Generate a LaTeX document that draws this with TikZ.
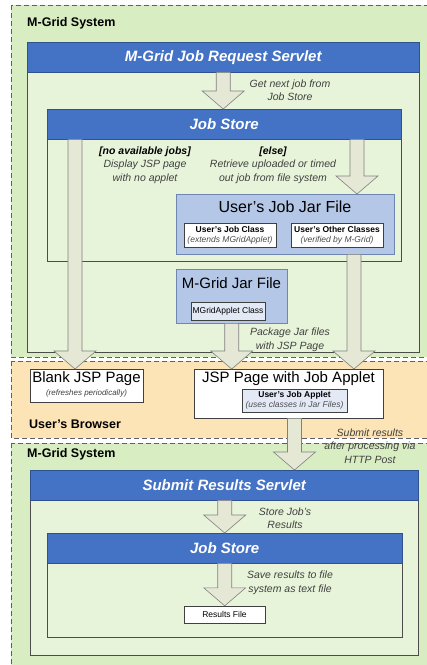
\documentclass[tikz,border=0pt]{standalone}
\usepackage{fontspec}
\setmainfont{Liberation Sans}
\usetikzlibrary{calc}

\definecolor{sysgreen}{HTML}{D8EEC2}
\definecolor{innergreen}{HTML}{E8F4DA}
\definecolor{browserorange}{HTML}{FCE4B6}
\definecolor{barblue}{HTML}{4472C4}
\definecolor{bardark}{HTML}{2F528F}
\definecolor{jarblue}{HTML}{B4C7E7}
\definecolor{jarline}{HTML}{6F86B0}
\definecolor{appletblue}{HTML}{E3EAF6}
\definecolor{arrowfill}{HTML}{E6E8D6}

% block arrow from a point straight down to another point
\newcommand{\blockarrow}[2]{%
  \path[blockarr] let \p1=#1, \p2=#2 in
    (\x1-7pt,\y1) -- (\x1-7pt,\y2+18pt) -- (\x1-21pt,\y2+18pt) -- (\x1,\y2)
    -- (\x1+21pt,\y2+18pt) -- (\x1+7pt,\y2+18pt) -- (\x1+7pt,\y1) -- cycle;}

\begin{document}
\begin{tikzpicture}[x=1pt,y=-1pt,
  sysregion/.style={draw=gray!75!black,dash pattern=on 5pt off 3pt,line width=0.7pt},
  container/.style={draw=black!70,fill=innergreen,anchor=north west,inner sep=0pt},
  bluebar/.style={draw=bardark,fill=barblue,text=white,anchor=north west,minimum height=30,
    inner sep=0pt,font=\fontsize{15}{18}\selectfont\bfseries\itshape},
  jarbox/.style={draw=jarline,fill=jarblue,anchor=north west,inner sep=0pt},
  classbox/.style={draw=black!75,fill=white,inner sep=1pt,align=center,
    font=\fontsize{8.5}{10}\selectfont},
  pagebox/.style={draw=black!75,fill=white,anchor=north west,inner sep=0pt},
  boxtitle/.style={inner sep=0pt,font=\fontsize{15}{18}\selectfont},
  note/.style={align=center,text=black!75,inner sep=0pt,font=\fontsize{10.5}{13.5}\selectfont\itshape},
  syslabel/.style={anchor=west,inner sep=0pt,font=\fontsize{12.5}{15}\selectfont\bfseries},
  blockarr/.style={draw=black!50,fill=arrowfill,line width=0.6pt}]

  \clip (0,0) rectangle (427,665);

  % system regions
  \draw[sysregion,fill=sysgreen] (11,5) rectangle (440,357);
  \draw[sysregion,fill=browserorange] (11,361) rectangle (440,438);
  \draw[sysregion,fill=sysgreen] (11,443) rectangle (440,680);

  \node[syslabel] (topsys) at (27,23) {M-Grid System};
  \node[syslabel] (browser) at (29,424) {User's Browser};
  \node[syslabel] (botsys) at (27,454) {M-Grid System};

  % job request side
  \node[container,minimum width=392,minimum height=310] (reqbox) at (27,42) {};
  \node[bluebar,minimum width=392] (reqservlet) at (27,42) {M-Grid Job Request Servlet};
  \node[container,minimum width=354,minimum height=152] (storebox) at (47,109) {};
  \node[bluebar,minimum width=354] (jobstore) at (47,109) {Job Store};

  % results side
  \node[container,minimum width=388,minimum height=185] (submitbox) at (30,470) {};
  \node[bluebar,minimum width=388] (submit) at (30,470) {Submit Results Servlet};
  \node[container,minimum width=355,minimum height=104] (storebox2) at (47,533) {};
  \node[bluebar,minimum width=355] (jobstore2) at (47,533) {Job Store};

  % jar files
  \node[jarbox,minimum width=218,minimum height=60] (userjar) at (176,194) {};
  \node[boxtitle,font=\fontsize{16}{19}\selectfont] (userjartitle) at (285,207) {User's Job Jar File};
  \node[classbox,minimum width=92,minimum height=24] (jobclass) at (230,235)
    {\textbf{User's Job Class}\\\textcolor{black!70}{\textit{(extends MGridApplet)}}};
  \node[classbox,minimum width=92,minimum height=24] (otherclass) at (337,235)
    {\textbf{User's Other Classes}\\\textcolor{black!70}{\textit{(verified by M-Grid)}}};

  \node[jarbox,minimum width=111,minimum height=54] (gridjar) at (176,269) {};
  \node[boxtitle] (gridjartitle) at (231.5,283) {M-Grid Jar File};
  \node[classbox,fill=appletblue,minimum width=74,minimum height=18] (appletclass) at (228,311) {MGridApplet Class};

  % browser pages
  \node[pagebox,minimum width=113,minimum height=33] (blank) at (30,369) {};
  \node[boxtitle] (blanktitle) at (86.5,379) {Blank JSP Page};
  \node[note,font=\fontsize{8}{10}\selectfont\itshape] (blanksub) at (86.5,393) {(refreshes periodically)};
  \node[pagebox,minimum width=189,minimum height=49] (jsppage) at (194,369) {};
  \node[boxtitle] (jsptitle) at (288.5,379) {JSP Page with Job Applet};
  \node[classbox,fill=appletblue,minimum width=105,minimum height=23] (jobapplet) at (294.5,400.5)
    {\textbf{User's Job Applet}\\\textcolor{black!70}{\textit{(uses classes in Jar Files)}}};

  \node[classbox,minimum width=81,minimum height=17] (results) at (224.5,614.5) {Results File};

  % arrows
  \coordinate (blankx) at (75,0);
  \coordinate (userx) at (357,0);
  \coordinate (jspx) at (354,0);
  \blockarrow{(reqservlet.south)}{(reqservlet.south |- jobstore.north)}
  \blockarrow{(blankx |- jobstore.south)}{(blankx |- blank.north)}
  \blockarrow{(userx |- jobstore.south)}{(userx |- userjar.north)}
  \blockarrow{(jspx |- userjar.south)}{(jspx |- jsppage.north)}
  \blockarrow{(gridjar.south)}{(gridjar.south |- jsppage.north)}
  \blockarrow{(jobapplet.south |- jsppage.south)}{(jobapplet.south |- submit.north)}
  \blockarrow{(jobstore2.north |- submit.south)}{(jobstore2.north)}
  \blockarrow{(jobstore2.south)}{(results.north)}

  % notes
  \node[note] (getnext) at (290,90) {Get next job from\\Job Store};
  \node[note] (nojobs) at (145,165) {\textcolor{black}{\textbf{[no available jobs]}}\\Display JSP page\\with no applet};
  \node[note] (elsejob) at (273,165) {\textcolor{black}{\textbf{[else]}}\\Retrieve uploaded or timed\\out job from file system};
  \node[note] (package) at (290,340) {Package Jar files\\with JSP Page};
  \node[note] (submitnote) at (370,446) {Submit results\\after processing via\\HTTP Post};
  \node[note] (storenote) at (285,518) {Store Job's\\Results};
  \node[note] (savenote) at (290,583) {Save results to file\\system as text file};
\end{tikzpicture}
\end{document}
